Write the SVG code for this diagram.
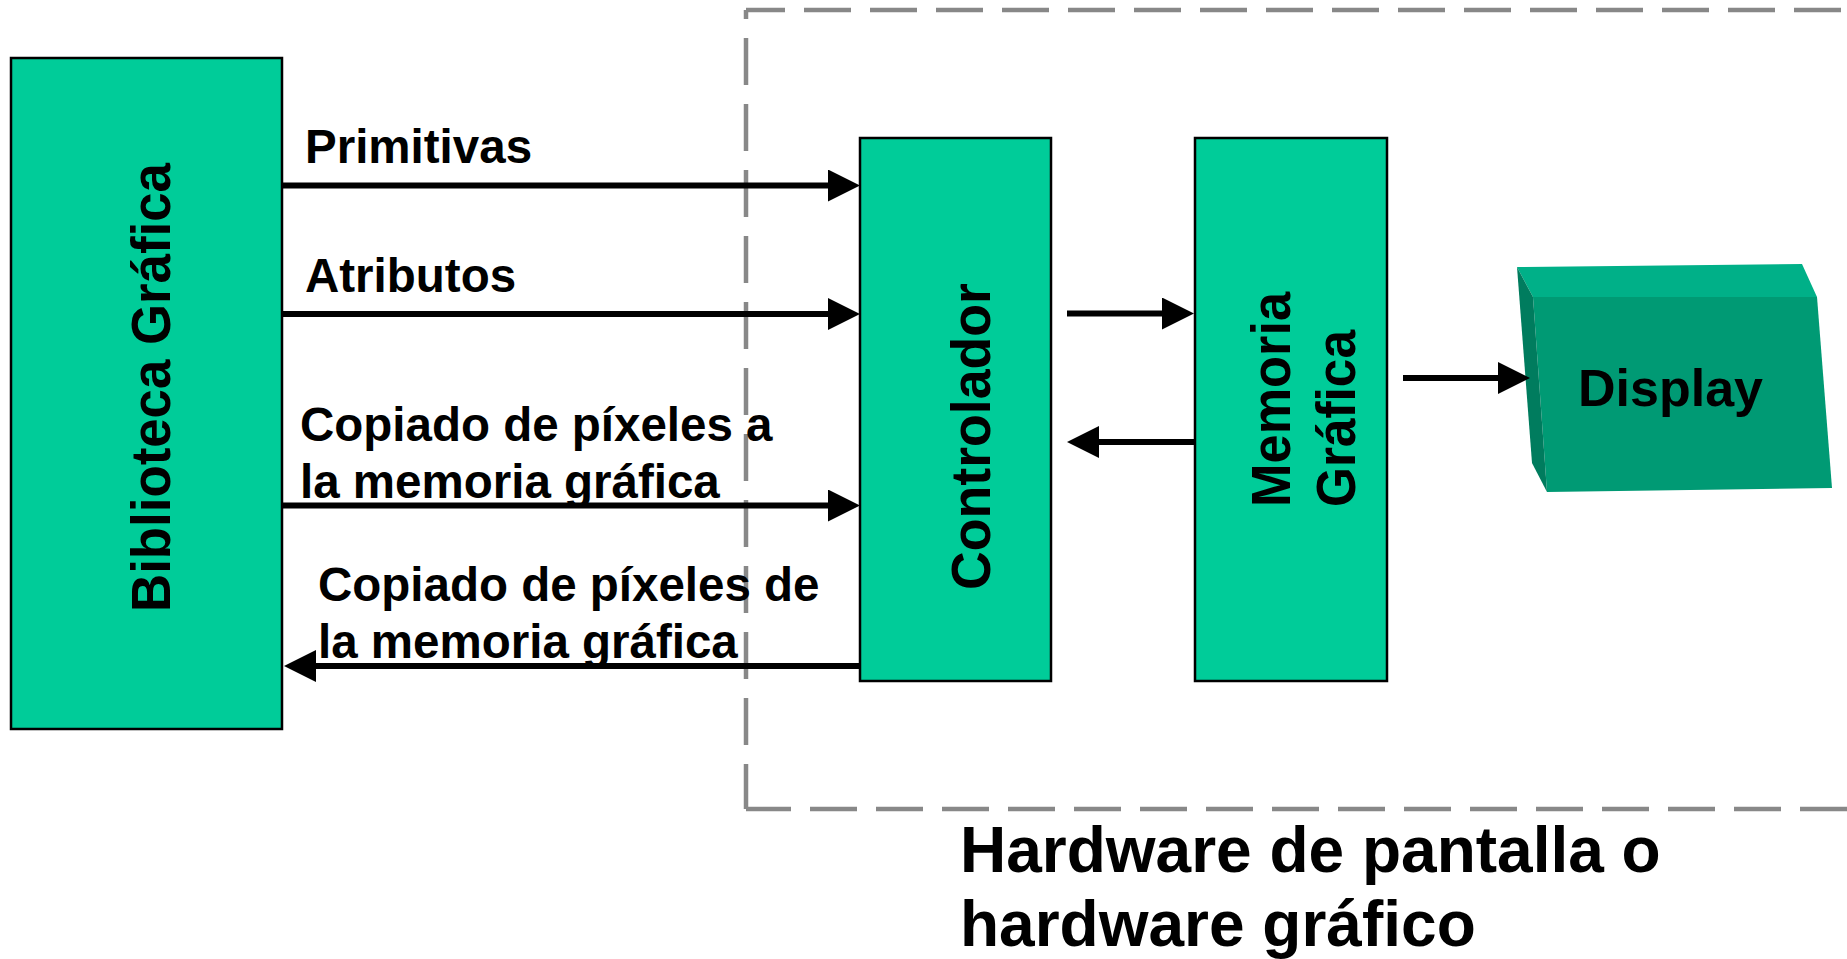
<svg xmlns="http://www.w3.org/2000/svg" width="1847" height="959" viewBox="0 0 1847 959">
<defs>
<style>
.box{fill:#00CC99;stroke:#000;stroke-width:2.5}
.lbl{font-family:"Liberation Sans",Arial,sans-serif;font-weight:bold;fill:#000}
.conn{stroke:#000;stroke-width:6;fill:none}
.dash{stroke:#888;stroke-width:4.5;fill:none;stroke-dasharray:47 19}
</style>
<marker id="ah" markerUnits="userSpaceOnUse" markerWidth="32" markerHeight="32" refX="16" refY="16" orient="auto" viewBox="0 0 32 32">
<path d="M0,0 L32,16 L0,32 Z" fill="#000"/>
</marker>
</defs>
<rect width="1847" height="959" fill="#fff"/>
<g id="hardware-boundary">
<path class="dash" d="M746,10 H1900" stroke-dashoffset="8"/>
<path class="dash" d="M746,10 V809" stroke-dashoffset="38"/>
<path class="dash" d="M746,809 H1900" stroke-dashoffset="2"/>
<text class="lbl" font-size="64" x="960" y="872">Hardware de pantalla o</text>
<text class="lbl" font-size="64" x="960" y="946">hardware gráfico</text>
</g>
<g id="biblioteca">
<rect class="box" x="11" y="58" width="271" height="671"/>
<text class="lbl" font-size="55" transform="translate(170,612) rotate(-90)" textLength="449" lengthAdjust="spacingAndGlyphs">Biblioteca Gráfica</text>
</g>
<g id="controlador">
<rect class="box" x="860" y="138" width="191" height="543"/>
<text class="lbl" font-size="56" transform="translate(990,590) rotate(-90)" textLength="307" lengthAdjust="spacingAndGlyphs">Controlador</text>
</g>
<g id="memoria">
<rect class="box" x="1195" y="138" width="192" height="543"/>
<text class="lbl" font-size="56" transform="translate(1290,507) rotate(-90)" textLength="215" lengthAdjust="spacingAndGlyphs">Memoria</text>
<text class="lbl" font-size="56" transform="translate(1355,507) rotate(-90)" textLength="177" lengthAdjust="spacingAndGlyphs">Gráfica</text>
</g>
<g id="display">
<polygon points="1517,267 1802,264 1817,297 1533,297" fill="#00B088"/>
<polygon points="1533,297 1817,297 1832,488 1547,492" fill="#009A74"/>
<polygon points="1517,267 1533,297 1547,492 1532,463" fill="#007C5E"/>
<text class="lbl" font-size="52" x="1578" y="406">Display</text>
</g>
<g id="connectors">
<path class="conn" d="M283,185.5 H844" marker-end="url(#ah)"/>
<path class="conn" d="M283,314 H844" marker-end="url(#ah)"/>
<path class="conn" d="M283,505.5 H844" marker-end="url(#ah)"/>
<path class="conn" d="M860,666 H300" marker-end="url(#ah)"/>
<path class="conn" d="M1067,313.5 H1178" marker-end="url(#ah)"/>
<path class="conn" d="M1195,442 H1083" marker-end="url(#ah)"/>
<path class="conn" d="M1403,378 H1514" marker-end="url(#ah)"/>
</g>
<g id="labels">
<text class="lbl" font-size="47.5" x="305" y="163">Primitivas</text>
<text class="lbl" font-size="47.5" x="305" y="292">Atributos</text>
<text class="lbl" font-size="47.5" x="300" y="441">Copiado de píxeles a</text>
<text class="lbl" font-size="47.5" x="300" y="498">la memoria gráfica</text>
<text class="lbl" font-size="47.5" x="318" y="601">Copiado de píxeles de</text>
<text class="lbl" font-size="47.5" x="318" y="658">la memoria gráfica</text>
</g>
</svg>
